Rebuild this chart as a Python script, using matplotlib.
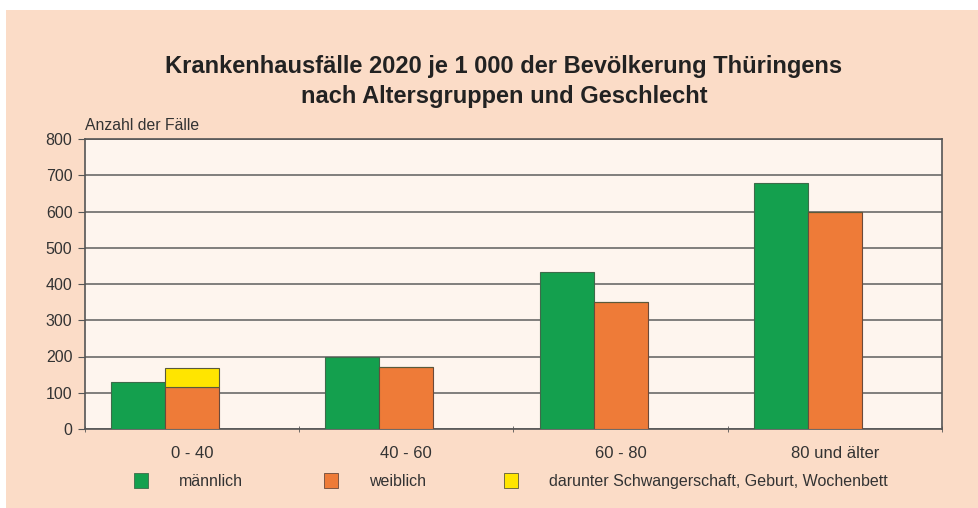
import matplotlib.pyplot as plt
from matplotlib.patches import Patch
import numpy as np

# Krankenhausfälle je 1 000 Einwohner, Thüringen 2020
groups = ["0 - 40", "40 - 60", "60 - 80", "80 und älter"]
maennlich = [130, 198, 434, 678]
weiblich = [167, 170, 349, 600]
# davon Schwangerschaft, Geburt, Wochenbett (nur 0 - 40)
schwanger = [52, 0, 0, 0]

plt.rcParams['font.family'] = ['Liberation Sans', 'DejaVu Sans']

green = "#14a04e"
orange = "#ee7b38"
yellow = "#ffe500"

fig = plt.figure(figsize=(9.79, 5.08), dpi=100)
fig.patch.set_facecolor("white")
# peach background panel (white strip at top and left as in the scan)
bg = fig.add_axes([6 / 979, 0, 1 - 6 / 979, 1 - 10 / 508])
bg.set_facecolor("#fbdcc7")
bg.set_xticks([])
bg.set_yticks([])
for s in bg.spines.values():
    s.set_visible(False)
bg.set_zorder(0)

ax = fig.add_axes([85 / 979, 1 - 429 / 508, (942 - 85) / 979, (429 - 139) / 508])
ax.set_zorder(1)
ax.set_facecolor("#fef5ee")

x = np.arange(len(groups))
w = 0.252
base_w = [a - b for a, b in zip(weiblich, schwanger)]
ax.bar(x - w, maennlich, w, color=green, edgecolor="#3d6b4a", linewidth=0.8, zorder=3)
ax.bar(x, base_w, w, color=orange, edgecolor="#6b4a3a", linewidth=0.8, zorder=3)
ax.bar(x, schwanger, w, bottom=base_w, color=yellow, edgecolor="#5a5a3a", linewidth=0.8, zorder=3)

ax.set_xlim(-0.5, len(groups) - 0.5)
ax.set_ylim(0, 800)
ax.set_yticks(range(0, 801, 100))
ax.yaxis.grid(True, color="#5e5e5e", linewidth=1.1)
ax.set_axisbelow(True)

ax.set_xticks(x)
ax.set_xticklabels(groups)
ax.set_xticks(np.arange(-0.5, len(groups)), minor=True)
ax.tick_params(axis="x", which="major", length=0, pad=12, labelsize=12, colors="#333333")
ax.tick_params(axis="x", which="minor", length=5, direction="inout", color="#555555")
ax.tick_params(axis="y", length=5, direction="out", color="#555555", labelsize=11.5,
               labelcolor="#333333", pad=4)
for s in ax.spines.values():
    s.set_color("#555555")
    s.set_linewidth(1.2)

fig.text(85 / 979, 1 - 125 / 508, "Anzahl der Fälle", fontsize=11.3, color="#333333",
         va="center", ha="left")
fig.text(504 / 979, 1 - 66 / 508, "Krankenhausfälle 2020 je 1 000 der Bevölkerung Thüringens",
         fontsize=17, fontweight="bold", color="#222222", ha="center", va="center")
fig.text(504 / 979, 1 - 97 / 508, "nach Altersgruppen und Geschlecht",
         fontsize=17, fontweight="bold", color="#222222", ha="center", va="center")

colors = [(green, "#3d6b4a"), (orange, "#6b4a3a"), (yellow, "#5a5a3a")]
labels = ["männlich", "weiblich", "darunter Schwangerschaft, Geburt, Wochenbett"]
starts = [134, 324, 504]
for (fc, ec), lab, x0 in zip(colors, labels, starts):
    fig.legend([Patch(facecolor=fc, edgecolor=ec, linewidth=0.6)], [lab],
               loc="center left", bbox_to_anchor=(x0 / 979, 1 - 481 / 508),
               frameon=False, fontsize=11.5, handlelength=0.9, handleheight=1.1,
               handletextpad=1.9, borderpad=0, borderaxespad=0, labelcolor="#333333")

fig.savefig("out.png", dpi=100, facecolor=fig.get_facecolor())
